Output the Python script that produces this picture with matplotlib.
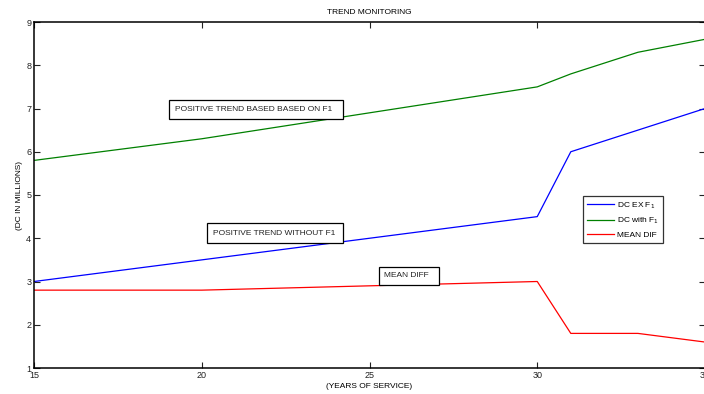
import matplotlib
matplotlib.use("Agg")
import matplotlib.pyplot as plt
from matplotlib.patches import Rectangle

plt.rcParams['font.family'] = ['Liberation Sans', 'DejaVu Sans']

years = [15, 20, 30, 31, 33, 35]
dc_ex_f1 = [3.0, 3.5, 4.5, 6.0, 6.5, 7.0]
dc_with_f1 = [5.8, 6.3, 7.5, 7.8, 8.3, 8.6]
mean_dif = [2.8, 2.8, 3.0, 1.8, 1.8, 1.6]
legend_labels = ['DC EX F$_1$', 'DC with F$_1$', 'MEAN DIF']
xticks = [15, 20, 25, 30, 35]
yticks = [1, 2, 3, 4, 5, 6, 7, 8, 9]

fig = plt.figure(figsize=(7.04, 3.94), dpi=100)
ax = fig.add_axes([34/704, 26/394, 671/704, 346/394])

l1, = ax.plot(years, dc_ex_f1, color='#0000ff', lw=0.9)
l2, = ax.plot(years, dc_with_f1, color='#008000', lw=0.9)
l3, = ax.plot(years, mean_dif, color='#ff0000', lw=0.9)

ax.set_xlim(15, 35)
ax.set_ylim(1, 9)
ax.set_xticks(xticks)
ax.set_yticks(yticks)
ax.tick_params(direction='in', length=4, width=0.8, labelsize=6.5, pad=2,
               top=True, right=True, colors='#222222')
for s in ax.spines.values():
    s.set_linewidth(1.1)

ax.set_title('TREND MONITORING', fontsize=6, pad=6)
ax.set_xlabel('(YEARS OF SERVICE)', fontsize=6, labelpad=2)
ax.set_ylabel('(DC IN MILLIONS)', fontsize=6, labelpad=2)

# annotation boxes (data coordinates)
boxes = [
    (19.03, 6.76, 5.19, 0.44, 'POSITIVE TREND BASED BASED ON F1'),
    (20.16, 3.89, 4.06, 0.46, 'POSITIVE TREND WITHOUT F1'),
    (25.27, 2.92, 1.79, 0.42, 'MEAN DIFF'),
]
for x0, y0, w, h, txt in boxes:
    ax.add_patch(Rectangle((x0, y0), w, h, facecolor='white', edgecolor='black',
                           lw=0.9, zorder=4))
    ax.text(x0 + 0.17, y0 + h / 2, txt, fontsize=6, va='center', ha='left',
            color='#222222', zorder=5)

leg = ax.legend([l1, l2, l3], legend_labels, loc='upper left',
                bbox_to_anchor=(549/671, (368-196)/346), fontsize=6,
                frameon=True, fancybox=False, edgecolor='black',
                handlelength=3.2, handletextpad=0.4, borderpad=0.5,
                labelspacing=0.6, borderaxespad=0)
leg.get_frame().set_linewidth(0.9)

fig.savefig('out.png', dpi=100)
